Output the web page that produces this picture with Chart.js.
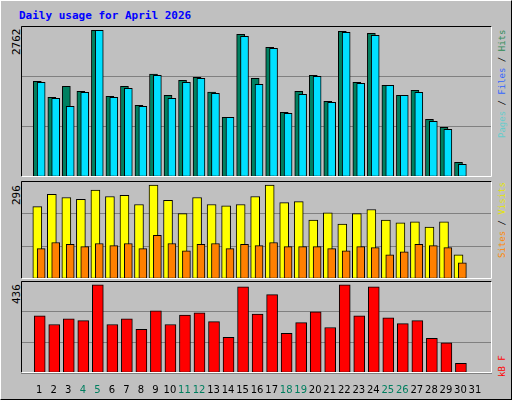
<!DOCTYPE html>
<html><head><meta charset="utf-8">
<script src="https://cdn.jsdelivr.net/npm/chart.js@4"></script>
<style>
body{margin:0;background:#c0c0c0;}
#wrap{position:relative;width:510px;height:398px;border:1px solid #000;border-top-color:#fff;border-left-color:#fff;background:#c0c0c0;overflow:hidden;font-family:"DejaVu Sans Mono",monospace;}
canvas{position:absolute;}
.t{position:absolute;font-size:11px;white-space:nowrap;}
.rot{transform-origin:0 0;transform:rotate(-90deg);}
.lg{font-size:9px;}
</style></head><body>
<div id="wrap">
<div class="t" style="left:18px;top:8px;color:#0000ff;font-weight:bold;">Daily usage for April 2026</div>
<div class="t rot" style="left:9px;top:54px;color:#000;">2762</div>
<div class="t rot" style="left:9px;top:204px;color:#000;">296</div>
<div class="t rot" style="left:9px;top:303px;color:#000;">436</div>
<div class="t rot lg" style="left:496px;top:137px;"><span style="color:#66cccc">Pages</span><span style="color:#000"> / </span><span style="color:#3366ff">Files</span><span style="color:#000"> / </span><span style="color:#2e8b57">Hits</span></div>
<div class="t rot lg" style="left:496px;top:257px;"><span style="color:#ff8800">Sites</span><span style="color:#000"> / </span><span style="color:#e6e600">Visits</span></div>
<div class="t rot lg" style="left:496px;top:376px;color:#ff0000;">kB F</div>
<canvas id="c1" width="471" height="151" style="left:20px;top:25px"></canvas>
<canvas id="c2" width="471" height="98" style="left:20px;top:180px"></canvas>
<canvas id="c3" width="471" height="118" style="left:20px;top:280px"></canvas>
</div>
<script>
const days = Array.from({length: 31}, (_, i) => i + 1);
const weekendDays = [4, 5, 11, 12, 18, 19, 25, 26];
const hits = [1802,1500,1707,1613,2762,1519,1707,1350,1940,1538,1820,1877,1601,1124,2687,1858,2442,1218,1613,1914,1425,2743,1783,2705,1726,1538,1632,1086,935,276,0];
const files = [1783,1481,1331,1594,2762,1500,1670,1331,1914,1481,1783,1858,1576,1124,2649,1745,2423,1199,1557,1896,1406,2724,1764,2668,1726,1538,1594,1048,898,239,0];
const visits = [228,267,257,251,280,260,264,235,296,248,206,257,235,231,235,260,296,241,244,186,209,173,206,219,186,177,180,164,180,76,0];
const sites = [96,115,109,102,112,105,112,96,138,112,89,109,112,96,109,105,115,102,102,102,96,89,102,99,76,86,109,105,99,51,0];
const kbytes = [283,240,268,259,436,240,268,216,307,240,287,297,254,177,426,292,388,196,249,302,225,436,283,426,273,244,259,172,149,48,0];

const frame = {
  id: 'frame',
  afterDraw(chart) {
    const a = chart.chartArea, ctx = chart.ctx;
    ctx.save();
    ctx.strokeStyle = '#000';
    ctx.lineWidth = 1;
    ctx.beginPath();
    ctx.moveTo(a.left + 0.5, a.bottom - 0.5);
    ctx.lineTo(a.left + 0.5, a.top + 0.5);
    ctx.lineTo(a.right - 0.5, a.top + 0.5);
    ctx.stroke();
    ctx.strokeStyle = '#fff';
    ctx.beginPath();
    ctx.moveTo(a.right - 0.5, a.top + 0.5);
    ctx.lineTo(a.right - 0.5, a.bottom - 0.5);
    ctx.lineTo(a.left + 0.5, a.bottom - 0.5);
    ctx.stroke();
    ctx.restore();
  }
};

function series(vals, shift) {
  return vals.map((v, i) => ({x: days[i] + shift, y: v}));
}

function makeChart(id, datasets, maxY, showDays) {
  new Chart(document.getElementById(id), {
    type: 'bar',
    data: {datasets},
    plugins: [frame],
    options: {
      responsive: false,
      animation: false,
      devicePixelRatio: 1,
      layout: {padding: 0},
      plugins: {legend: {display: false}, tooltip: {enabled: false}},
      datasets: {bar: {grouped: false, borderColor: '#000', borderWidth: 1, borderSkipped: false}},
      scales: {
        x: {
          type: 'linear', min: 0.267, max: 31.65,
          display: showDays,
          grid: {display: false},
          border: {display: false},
          afterBuildTicks: s => { s.ticks = days.map(d => ({value: d})); },
          ticks: {
            padding: 3,
            autoSkip: false,
            maxRotation: 0,
            font: {family: 'DejaVu Sans', size: 10},
            color: c => weekendDays.includes(c.tick.value) ? '#007f5f' : '#000',
            callback: v => v
          }
        },
        y: {
          min: 0, max: maxY,
          afterBuildTicks: s => { s.ticks = [0, 1, 2, 3].map(k => ({value: maxY * k / 3})); },
          ticks: {display: false},
          grid: {color: '#808080', drawTicks: false, lineWidth: 1},
          border: {display: false}
        }
      }
    }
  });
}

// lower order is drawn on top
makeChart('c1', [
  {data: series(hits, -0.133), backgroundColor: '#008060', barThickness: 8, order: 2},
  {data: series(files, 0.133), backgroundColor: '#00e0ff', barThickness: 8, order: 1}
], 2844, false);
makeChart('c2', [
  {data: series(visits, -0.133), backgroundColor: '#ffff00', barThickness: 9, order: 2},
  {data: series(sites, 0.133), backgroundColor: '#ff8000', barThickness: 8, order: 1}
], 309, false);
makeChart('c3', [
  {data: series(kbytes, 0.033), backgroundColor: '#ff0000', barThickness: 11}
], 455, true);
</script>
</body></html>
